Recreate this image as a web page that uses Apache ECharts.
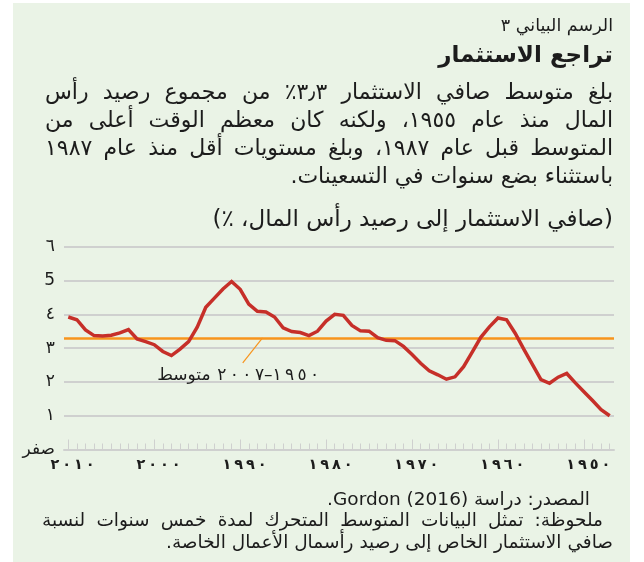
<!DOCTYPE html>
<html>
<head>
<meta charset="utf-8">
<script src="https://cdn.jsdelivr.net/npm/echarts@6/dist/echarts.min.js"></script>
<style>
html,body{margin:0;padding:0;background:#ffffff;}
#chart{width:644px;height:562px;}
</style>
</head>
<body>
<div id="chart"></div>
<script>
// ---- data ----
const years = [1947,1948,1949,1950,1951,1952,1953,1954,1955,1956,
  1957,1958,1959,1960,1961,1962,1963,1964,1965,1966,
  1967,1968,1969,1970,1971,1972,1973,1974,1975,1976,
  1977,1978,1979,1980,1981,1982,1983,1984,1985,1986,
  1987,1988,1989,1990,1991,1992,1993,1994,1995,1996,
  1997,1998,1999,2000,2001,2002,2003,2004,2005,2006,
  2007,2008,2009,2010];
const investment = [1.00,1.18,1.45,1.71,1.97,2.25,2.14,1.96,2.07,2.52,
  2.97,3.44,3.84,3.89,3.63,3.32,2.88,2.45,2.15,2.08,
  2.21,2.33,2.55,2.81,3.05,3.22,3.23,3.31,3.50,3.51,
  3.67,3.97,4.00,3.80,3.50,3.37,3.46,3.49,3.60,3.92,
  4.07,4.09,4.30,4.74,4.97,4.75,4.48,4.21,3.62,3.19,
  2.97,2.78,2.90,3.10,3.19,3.27,3.55,3.45,3.38,3.36,
  3.37,3.54,3.84,3.92];
const averageValue = 3.3;
const decadeTicks = [1950,1960,1970,1980,1990,2000,2010];
const decadeLabels = ['١٩٥٠','١٩٦٠','١٩٧٠','١٩٨٠','١٩٩٠','٢٠٠٠','٢٠١٠'];
const yTicks = [0,1,2,3,4,5,6];
const yTickLabels = ['صفر','١','٢','٣','٤','5','٦'];

const chartNo = 'الرسم البياني ٣';
const title = 'تراجع الاستثمار';
const bodyLines = [
  'بلغ متوسط صافي الاستثمار ٣٫٣٪ من مجموع رصيد رأس',
  'المال منذ عام ١٩٥٥، ولكنه كان معظم الوقت أعلى من',
  'المتوسط قبل عام ١٩٨٧، وبلغ مستويات أقل منذ عام ١٩٨٧',
  'باستثناء بضع سنوات في التسعينات.'
];
const unitLabel = '(صافي الاستثمار إلى رصيد رأس المال، ٪)';
const avgWord = 'متوسط';
const avgFrom = '١٩٥٠';
const avgTo = '٢٠٠٧';
const sourceLine = 'المصدر: دراسة Gordon (2016).';
const noteLines = [
  'ملحوظة: تمثل البيانات المتوسط المتحرك لمدة خمس سنوات لنسبة',
  'صافي الاستثمار الخاص إلى رصيد رأسمال الأعمال الخاصة.'
];

// ---- helpers ----
const AR = 'DejaVu Sans';
const rtl = s => '\u202B' + s + '\u202C';
const spacedRaw = s => s.split('').join('\u2009');
const INK = '#1c1c1c';
const GRID = '#cfd0cf';
const measureCtx = document.createElement('canvas').getContext('2d');

const chart = echarts.init(document.getElementById('chart'), null, {renderer:'canvas'});

function txt(s, x, y, font, align) {
  return {type:'text', z:10, style:{text: rtl(s), x:x, y:y, font:font, fill:INK,
    textAlign: align || 'right', textVerticalAlign:'middle'}};
}
// justified RTL line: words spread between left and right edges
function justified(line, left, right, y, font) {
  const words = line.split(' ');
  measureCtx.font = font;
  const widths = words.map(w => measureCtx.measureText(rtl(w)).width);
  const total = widths.reduce((a,b)=>a+b,0);
  const gap = (right - left - total) / (words.length - 1);
  const out = [];
  let cursor = right;
  words.forEach((w,i) => {
    out.push(txt(w, cursor, y, font));
    cursor -= widths[i] + gap;
  });
  return out;
}

const BODY = '22px "'+AR+'"';
const FOOT = '18.5px "'+AR+'"';
let graphics = [
  {type:'rect', z:-10, shape:{x:13, y:3, width:617, height:559}, style:{fill:'#eaf3e6'}},
  txt(chartNo, 613, 26, '17.5px "'+AR+'"'),
  txt(title, 613, 56, 'bold 23px "'+AR+'"')
];
graphics = graphics.concat(justified(bodyLines[0], 45, 613, 93, BODY));
graphics = graphics.concat(justified(bodyLines[1], 45, 613, 121, BODY));
graphics = graphics.concat(justified(bodyLines[2], 45, 613, 149, BODY));
graphics.push(txt(bodyLines[3], 613, 177, BODY));
graphics.push(txt(unitLabel, 613, 220, '23px "'+AR+'"'));
graphics.push(txt(sourceLine, 590, 500, FOOT));
graphics = graphics.concat(justified(noteLines[0], 42, 603, 521.5, FOOT));
graphics.push(txt(noteLines[1], 613, 543, FOOT));

const option = {
  animation:false,
  backgroundColor:'#ffffff',
  grid:{left:64, right:30, top:246.7, bottom:112.5, containLabel:false, outerBoundsMode:'none'},
  xAxis:[
    {type:'value', min:1946.5, max:2010.5, inverse:true, position:'bottom',
     axisLine:{show:true, lineStyle:{color:GRID, width:2}},
     axisTick:{show:true, inside:true, length:10, customValues:decadeTicks, lineStyle:{color:GRID, width:1}},
     axisLabel:{show:true, customValues:decadeTicks, margin:8,
       formatter: v => '\u202D\u2009\u2009\u2009' + spacedRaw(decadeLabels[decadeTicks.indexOf(v)] || '') + '\u202C',
       fontFamily:AR, fontWeight:'bold', fontSize:14.5, color:INK},
     splitLine:{show:false}},
    {type:'value', min:1946.5, max:2010.5, inverse:true, position:'bottom',
     axisLine:{show:false},
     axisTick:{show:true, inside:true, length:6, customValues:years, lineStyle:{color:GRID, width:1}},
     axisLabel:{show:false},
     splitLine:{show:false}}
  ],
  yAxis:{type:'value', min:0, max:6, interval:1,
    axisLine:{show:false}, axisTick:{show:false},
    axisLabel:{margin:9, fontFamily:AR, fontSize:17, color:INK,
      formatter: v => yTickLabels[yTicks.indexOf(v)]},
    splitLine:{show:true, lineStyle:{color:GRID, width:2}}},
  series:[
    {type:'line', name:'investment', xAxisIndex:0, data: years.map((y,i)=>[y, investment[i]]),
     showSymbol:false, symbol:'none', z:5,
     lineStyle:{color:'#c62f29', width:3.5, join:'miter'},
     markLine:{silent:true, symbol:'none', label:{show:false},
       lineStyle:{color:'#f7941d', width:2.5, type:'solid'},
       data:[{yAxis:averageValue}]}}
  ],
  graphic: graphics
};
chart.setOption(option);

// annotation placed from data coordinates
const pStart = chart.convertToPixel({xAxisIndex:0, yAxisIndex:0}, [1989.7, 2.56]);
const pEnd = chart.convertToPixel({xAxisIndex:0, yAxisIndex:0}, [1987.4, averageValue]);
const pText = chart.convertToPixel({xAxisIndex:0, yAxisIndex:0}, [1980.8, 2.18]);
const avgText = avgWord + '\u2009\u2009\u202D' + spacedRaw(avgTo) + '–' + spacedRaw(avgFrom) + '\u202C';
chart.setOption({graphic: graphics.concat([
  {type:'line', z:8, shape:{x1:pStart[0], y1:pStart[1], x2:pEnd[0], y2:pEnd[1]},
   style:{stroke:'#f7941d', lineWidth:1.2}},
  {type:'text', z:10, style:{text: avgText, x:pText[0], y:pText[1], font:'17px "'+AR+'"', fill:INK,
    textAlign:'right', textVerticalAlign:'middle'}}
])});
</script>
</body>
</html>
